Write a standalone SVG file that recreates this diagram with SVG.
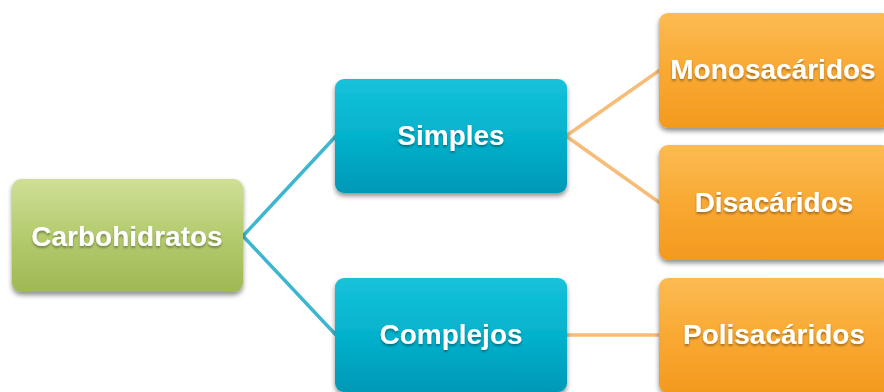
<svg xmlns="http://www.w3.org/2000/svg" width="884" height="392" viewBox="0 0 884 392">
<defs>
<linearGradient id="gGreen" x1="0" y1="0" x2="0" y2="1">
<stop offset="0" stop-color="#cfdf98"/><stop offset="0.5" stop-color="#b4cb6e"/><stop offset="1" stop-color="#9fb955"/>
</linearGradient>
<linearGradient id="gBlue" x1="0" y1="0" x2="0" y2="1">
<stop offset="0" stop-color="#16c2da"/><stop offset="0.5" stop-color="#05b2cc"/><stop offset="1" stop-color="#0498b7"/>
</linearGradient>
<linearGradient id="gOrange" x1="0" y1="0" x2="0" y2="1">
<stop offset="0" stop-color="#fcbb52"/><stop offset="0.5" stop-color="#f9a933"/><stop offset="1" stop-color="#f39a1e"/>
</linearGradient>
<filter id="sh" x="-10%" y="-10%" width="120%" height="130%">
<feGaussianBlur in="SourceAlpha" stdDeviation="2.5"/>
<feOffset dx="0" dy="3" result="b"/>
<feComponentTransfer><feFuncA type="linear" slope="0.45"/></feComponentTransfer>
<feMerge><feMergeNode/><feMergeNode in="SourceGraphic"/></feMerge>
</filter>
<filter id="tsh" x="-10%" y="-20%" width="120%" height="150%">
<feGaussianBlur in="SourceAlpha" stdDeviation="1"/>
<feOffset dx="0" dy="1.5"/>
<feComponentTransfer><feFuncA type="linear" slope="0.35"/></feComponentTransfer>
<feMerge><feMergeNode/><feMergeNode in="SourceGraphic"/></feMerge>
</filter>
</defs>
<style>
.box{filter:url(#sh);}
.lbl{font-family:"Liberation Sans",Arial,sans-serif;font-weight:bold;font-size:28px;fill:#ffffff;text-anchor:middle;filter:url(#tsh);}
.cb{stroke:#3db7cf;stroke-width:3.5;fill:none;}
.co{stroke:#f7bd78;stroke-width:3.5;fill:none;}
</style>
<rect width="884" height="392" fill="#ffffff"/>
<g id="connectors">
<line class="cb" x1="243" y1="236" x2="336" y2="136"/>
<line class="cb" x1="243" y1="236" x2="336" y2="335"/>
<line class="co" x1="566" y1="136" x2="660" y2="70"/>
<line class="co" x1="566" y1="136" x2="660" y2="203"/>
<line class="co" x1="566" y1="335" x2="660" y2="335"/>
</g>
<g id="carbohidratos">
<rect class="box" x="12" y="179" width="231" height="113" rx="9" fill="url(#gGreen)"/>
<text class="lbl" x="127" y="246">Carbohidratos</text>
</g>
<g id="simples">
<rect class="box" x="335" y="79" width="232" height="114" rx="9" fill="url(#gBlue)"/>
<text class="lbl" x="451" y="145">Simples</text>
</g>
<g id="complejos">
<rect class="box" x="335" y="278" width="232" height="114" rx="9" fill="url(#gBlue)"/>
<text class="lbl" x="451" y="344">Complejos</text>
</g>
<g id="monosacaridos">
<rect class="box" x="659" y="13" width="232" height="115" rx="9" fill="url(#gOrange)"/>
<text class="lbl" x="773" y="79">Monosacáridos</text>
</g>
<g id="disacaridos">
<rect class="box" x="659" y="145" width="232" height="115" rx="9" fill="url(#gOrange)"/>
<text class="lbl" x="774" y="212">Disacáridos</text>
</g>
<g id="polisacaridos">
<rect class="box" x="659" y="278" width="232" height="115" rx="9" fill="url(#gOrange)"/>
<text class="lbl" x="774" y="344">Polisacáridos</text>
</g>
</svg>
